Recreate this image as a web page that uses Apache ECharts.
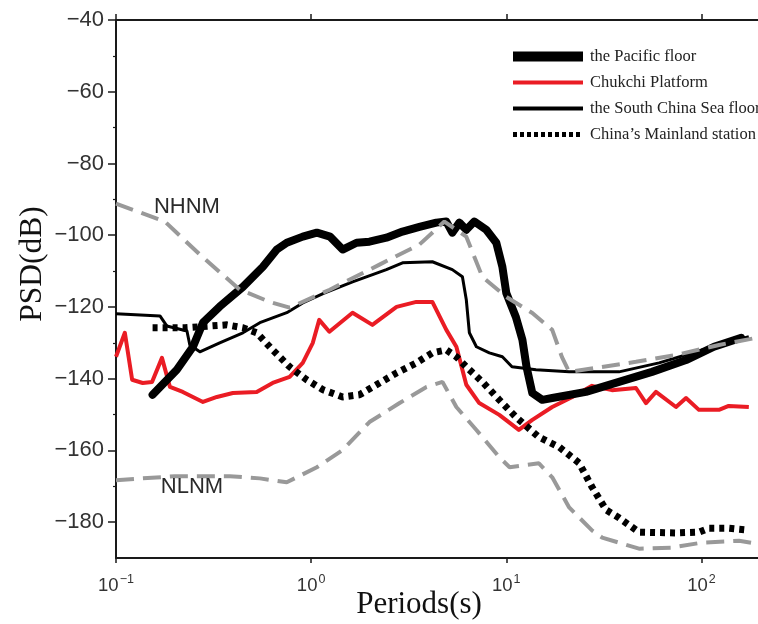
<!DOCTYPE html>
<html><head><meta charset="utf-8">
<script src="https://cdn.jsdelivr.net/npm/echarts@6/dist/echarts.min.js"></script>
<style>html,body{margin:0;padding:0;background:#fff}#c{width:758px;height:624px}</style>
</head><body><div id="c"></div>
<script>
// ---- data (period in s, PSD in dB) ----
const pacificT  = [0.154,0.205,0.248,0.279,0.340,0.447,0.566,0.667,0.750,0.906,1.07,1.25,1.45,1.71,1.99,2.43,2.94,3.59,4.38,4.93,5.29,5.75,6.24,6.86,7.90,8.89,9.55,10.0,11.2,12.1,12.7,13.6,15.3,17.2,25.6,37.8,55.8,83.4,116,160];
const pacificDB = [-144.5,-137.5,-131.1,-124.4,-119.9,-114.4,-108.8,-104.0,-102.1,-100.4,-99.3,-100.4,-104.0,-102.1,-101.8,-100.7,-99.0,-97.7,-96.5,-96.2,-99.3,-96.5,-98.5,-96.2,-98.5,-102.1,-108.8,-116.1,-122.8,-129.2,-136.7,-144.0,-145.9,-145.4,-143.7,-140.9,-138.1,-134.8,-131.1,-128.6];

const chukchiT  = [0.1,0.111,0.121,0.137,0.153,0.172,0.189,0.220,0.279,0.329,0.397,0.526,0.635,0.776,0.906,1.02,1.10,1.24,1.63,2.06,2.74,3.46,4.18,4.93,5.55,6.24,7.27,9.21,11.6,13.6,17.2,21.8,27.5,34.8,46.2,52.0,58.5,74.1,83.4,97.1,123,138,175];
const chukchiDB = [-133.9,-127.2,-140.3,-141.2,-140.9,-134.2,-142.3,-143.7,-146.5,-145.1,-144.0,-143.7,-141.2,-139.5,-135.6,-130.0,-123.6,-126.9,-121.6,-125.0,-120.0,-118.6,-118.6,-126.4,-131.1,-141.7,-146.8,-150.1,-154.3,-151.5,-147.9,-145.1,-142.0,-143.2,-142.6,-146.8,-143.7,-147.9,-145.4,-148.7,-148.7,-147.6,-147.9];

const scsT  = [0.1,0.168,0.182,0.231,0.239,0.269,0.340,0.447,0.546,0.750,0.906,1.15,1.63,2.43,2.94,4.18,5.29,5.96,6.24,6.47,7.03,8.19,9.55,10.7,14.2,21.0,37.8,60.7,123,175];
const scsDB = [-121.9,-122.5,-125.3,-126.7,-130.6,-132.5,-130.0,-127.2,-124.4,-121.6,-118.9,-116.3,-113.0,-109.6,-107.7,-107.4,-109.6,-111.6,-118.0,-127.2,-131.1,-132.8,-133.9,-136.7,-137.5,-138.1,-138.1,-135.6,-130.6,-128.3];

const mainlandT  = [0.154,0.226,0.370,0.447,0.526,0.635,0.776,0.948,1.15,1.45,1.77,2.24,2.74,3.46,4.18,4.93,5.55,6.24,7.54,9.21,11.2,14.7,18.7,23.6,27.5,32.5,37.8,47.9,74.0,97.1,109,138,171];
const mainlandDB = [-125.8,-125.8,-125.0,-125.8,-127.2,-132.0,-136.7,-140.3,-143.1,-145.1,-144.5,-141.2,-138.4,-135.6,-132.8,-132.0,-133.9,-136.7,-140.9,-145.9,-150.7,-156.3,-159.1,-163.5,-170.2,-176.6,-178.8,-182.8,-183.0,-182.8,-181.7,-181.7,-182.2];

const nhnmT  = [0.1,0.178,0.269,0.431,0.614,0.776,1.245,2.24,3.59,4.82,6.24,7.54,10,13.6,17.2,19.3,21.0,28.8,46.2,74.1,123,192];
const nhnmDB = [-91.2,-96.2,-105.4,-115.2,-118.6,-120.2,-115.2,-108.2,-102.6,-96.2,-100.4,-111.6,-117.2,-121.7,-126.4,-134.0,-138.1,-137.0,-135.3,-133.4,-130.6,-128.6];

const nlnmT  = [0.1,0.2,0.383,0.546,0.750,1.07,1.45,1.99,2.84,3.90,4.71,5.55,7.03,9.21,10.4,14.7,17.2,21.0,27.5,31.0,47.9,70.6,101,156,192];
const nlnmDB = [-168.3,-167.2,-167.2,-167.8,-168.9,-164.7,-159.9,-152.1,-146.8,-142.3,-140.9,-147.9,-154.3,-161.9,-164.7,-163.6,-167.5,-175.9,-182.3,-184.3,-187.4,-187.1,-185.7,-185.2,-186.0];

const xTicks = [0.1, 1, 10, 100];
const yTicks = [-180, -160, -140, -120, -100, -80, -60, -40];
const yMinorTicks = [-170, -150, -130, -110, -90, -70, -50];
const names = ['the Pacific floor', 'Chukchi Platform', 'the South China Sea floor', "China\u2019s Mainland station"];

const pairs = (t, d) => t.map((v, i) => [v, d[i]]);

const chart = echarts.init(document.getElementById('c'), null, {renderer: 'canvas'});
const axisCol = '#1a1a1a';
const xAxisBase = {
  type: 'log', logBase: 10, min: 0.1, max: 195,
  axisLine: {show: true, lineStyle: {color: axisCol, width: 2}},
  splitLine: {show: false}, minorTick: {show: false}
};
const option = {
  animation: false,
  backgroundColor: '#fff',
  grid: {left: 116, right: 0, top: 20, bottom: 66, containLabel: false, outerBoundsMode: 'none'},
  legend: {
    data: [
      {name: names[0], lineStyle: {width: 10, cap: 'butt'}},
      {name: names[1], lineStyle: {width: 4, cap: 'butt'}},
      {name: names[2], lineStyle: {width: 4, cap: 'butt'}},
      {name: names[3], lineStyle: {width: 5, type: [4, 3], cap: 'butt'}}
    ],
    orient: 'vertical', left: 508, top: 48, padding: 0,
    itemWidth: 70, itemHeight: 12, itemGap: 9,
    itemStyle: {opacity: 0, borderWidth: 0},
    textStyle: {fontFamily: 'Liberation Serif', fontSize: 16.5, color: '#222', padding: [0, 0, 0, 2]},
    selectedMode: false
  },
  xAxis: [
    Object.assign({}, xAxisBase, {
      position: 'bottom',
      axisTick: {show: true, inside: false, length: 5, customValues: xTicks, lineStyle: {color: axisCol, width: 1.5}},
      axisLabel: {
        show: true, margin: 15, customValues: xTicks, color: '#333',
        formatter: v => {
          const e = Math.round(Math.log10(v));
          return '{b|10}{s|' + (e < 0 ? '\u2212' : '') + Math.abs(e) + '}';
        },
        rich: {
          b: {fontFamily: 'Liberation Sans', fontSize: 18.5, color: '#333', verticalAlign: 'bottom', lineHeight: 22},
          s: {fontFamily: 'Liberation Sans', fontSize: 12.5, color: '#333', verticalAlign: 'top', lineHeight: 22, padding: [0, 0, 0, 1]}
        }
      },
      name: 'Periods(s)', nameLocation: 'middle', nameGap: 31, nameMoveOverlap: false,
      nameTextStyle: {fontFamily: 'Liberation Serif', fontSize: 31, color: '#111', padding: [0, 36, 0, 0]}
    }),
    Object.assign({}, xAxisBase, {
      position: 'top',
      axisTick: {show: true, inside: false, length: 6, customValues: xTicks, lineStyle: {color: axisCol, width: 1.5}},
      axisLabel: {show: false}
    })
  ],
  yAxis: [
    {
      type: 'value', min: -190, max: -40,
      axisLine: {show: true, onZero: false, lineStyle: {color: axisCol, width: 2}},
      axisTick: {show: true, inside: false, length: 8, customValues: yTicks, lineStyle: {color: axisCol, width: 1.5}},
      axisLabel: {show: true, customValues: yTicks, margin: 12, color: '#333', fontFamily: 'Liberation Sans', fontSize: 22,
        formatter: v => String(v).replace('-', '\u2212')},
      splitLine: {show: false},
      name: 'PSD(dB)', nameLocation: 'middle', nameGap: 67, nameMoveOverlap: false,
      nameTextStyle: {fontFamily: 'Liberation Serif', fontSize: 31.5, color: '#111', padding: [0, 0, 0, 50]}
    },
    {
      type: 'value', min: -190, max: -40, position: 'left',
      axisLine: {show: false},
      axisTick: {show: true, inside: false, length: 3, customValues: yMinorTicks, lineStyle: {color: axisCol, width: 1.2}},
      axisLabel: {show: false}, splitLine: {show: false}
    }
  ],
  series: [
    {name: names[1], type: 'line', data: pairs(chukchiT, chukchiDB), symbol: 'none',
      lineStyle: {color: '#ea1c24', width: 4, join: 'round'}, itemStyle: {color: '#ea1c24'}},
    {name: names[0], type: 'line', data: pairs(pacificT, pacificDB), symbol: 'none',
      lineStyle: {color: '#000', width: 8, join: 'round', cap: 'round'}, itemStyle: {color: '#000'}},
    {name: names[2], type: 'line', data: pairs(scsT, scsDB), symbol: 'none',
      lineStyle: {color: '#000', width: 3, join: 'round'}, itemStyle: {color: '#000'}},
    {name: names[3], type: 'line', data: pairs(mainlandT, mainlandDB), symbol: 'none',
      lineStyle: {color: '#000', width: 7, type: [5, 5], cap: 'butt'}, itemStyle: {color: '#000'}},
    {name: 'NHNM', type: 'line', data: pairs(nhnmT, nhnmDB), symbol: 'none',
      lineStyle: {color: '#999', width: 4, type: [18, 9]}, itemStyle: {color: '#999'},
      markPoint: {symbol: 'circle', symbolSize: 0, silent: true,
        label: {show: true, position: 'inside', formatter: 'NHNM', fontFamily: 'Liberation Sans', fontSize: 22, color: '#2a2a2a'},
        data: [{coord: [0.231, -92.0]}]}},
    {name: 'NLNM', type: 'line', data: pairs(nlnmT, nlnmDB), symbol: 'none',
      lineStyle: {color: '#999', width: 4, type: [18, 9]}, itemStyle: {color: '#999'},
      markPoint: {symbol: 'circle', symbolSize: 0, silent: true,
        label: {show: true, position: 'inside', formatter: 'NLNM', fontFamily: 'Liberation Sans', fontSize: 22, color: '#2a2a2a'},
        data: [{coord: [0.245, -170.2]}]}}
  ]
};
chart.setOption(option);
</script>
</body></html>
